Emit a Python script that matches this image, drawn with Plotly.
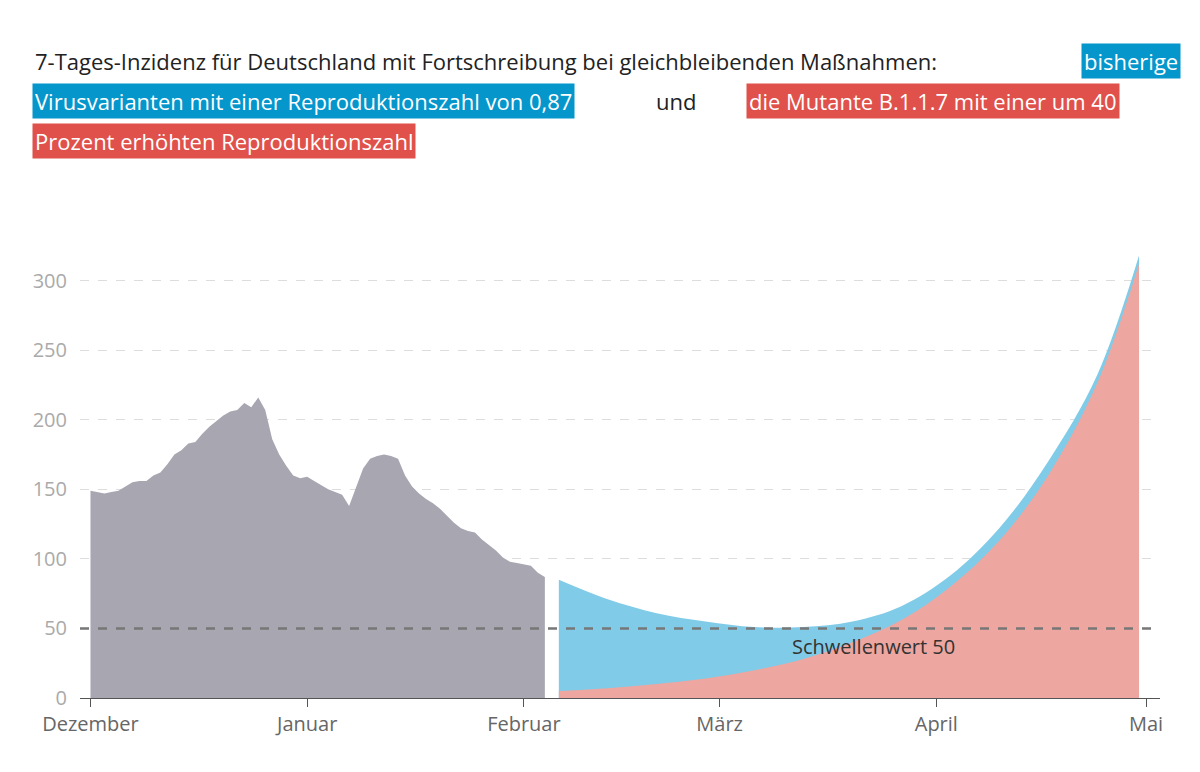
import pandas as pd
import plotly.graph_objects as go

# Tageswerte 1. Dez 2020 bis 5. Feb 2021
hist_start = "2020-12-01"
hist_values = [149, 148, 147, 148, 149, 152, 155, 156, 156, 160, 162, 168, 175, 178, 183, 184,
               190, 195, 199, 203, 206, 207, 212, 209, 216, 207, 186, 175, 167, 160, 158,
               159, 156, 153, 150, 148, 146, 138, 152, 165, 172, 174, 175, 174, 172, 160, 152,
               147, 143, 140, 136, 131, 126, 122, 120, 119, 114, 110, 106, 101, 98, 97,
               96, 95, 90, 87]
hist_dates = pd.date_range(hist_start, periods=len(hist_values), freq="D")

proj_dates = ["2021-02-06", "2021-02-13", "2021-02-20", "2021-02-27", "2021-03-06", "2021-03-13",
              "2021-03-20", "2021-03-27", "2021-04-03", "2021-04-10", "2021-04-17", "2021-04-24",
              "2021-04-30"]
total_values = [85, 71, 61, 55, 51, 51, 55, 66, 88, 122, 170, 232, 318]
mutant_values = [5, 7, 10, 14, 20, 28, 40, 56, 80, 113, 160, 226, 312]

tick_dates = ["2020-12-01", "2021-01-01", "2021-02-01", "2021-03-01", "2021-04-01", "2021-05-01"]
tick_labels = ["Dezember", "Januar", "Februar", "März", "April", "Mai"]

L, R, T, B = 72, 48, 242, 82
W, H = 1200, 772
OFF_X, OFF_Y = 8, 8  # Versatz der Darstellung im Browser


def px(x):
    return (x + OFF_X - L) / (W - L - R)


def py(y):
    return (H - B - (y + OFF_Y)) / (H - T - B)


fig = go.Figure()
fig.add_trace(go.Scatter(x=hist_dates, y=hist_values, mode="lines", fill="tozeroy",
                         line=dict(width=0, color="#a7a6b1"), fillcolor="#a7a6b1"))
fig.add_trace(go.Scatter(x=proj_dates, y=total_values, mode="lines", fill="tozeroy",
                         line=dict(width=0, shape="spline", color="#80cbe8"), fillcolor="#80cbe8"))
fig.add_trace(go.Scatter(x=proj_dates, y=mutant_values, mode="lines", fill="tozeroy",
                         line=dict(width=0, shape="spline", color="#eea6a0"), fillcolor="#eea6a0"))

fig.add_shape(type="line", xref="paper", x0=0, x1=1, y0=50, y1=50,
              line=dict(color="#777777", width=2.5, dash="dash"))
fig.add_annotation(x="2021-03-23", y=37, text="Schwellenwert 50", showarrow=False,
                   font=dict(family="Open Sans, sans-serif", size=20, color="#333"))

tf = dict(family="Open Sans, sans-serif", size=22, color="#222", weight=500)
wf = dict(family="Open Sans, sans-serif", size=22, color="white", weight=500)
anns = [
    (16, 45, "left", "7-Tages-Inzidenz für Deutschland mit Fortschreibung bei gleichbleibenden Maßnahmen:", tf, None),
    (1165, 45, "right", "bisherige", wf, "#0596cc"),
    (16, 85, "left", "Virusvarianten mit einer Reproduktionszahl von 0,87", wf, "#0596cc"),
    (660, 85, "center", "und", tf, None),
    (1104, 85, "right", "die Mutante B.1.1.7 mit einer um 40", wf, "#e0514b"),
    (16, 125, "left", "Prozent erhöhten Reproduktionszahl", wf, "#e0514b"),
]
for x, y, xa, text, f, bg in anns:
    fig.add_annotation(xref="paper", yref="paper", x=px(x), y=py(y), xanchor=xa, yanchor="middle",
                       text=text, showarrow=False, font=f, bgcolor=bg, borderpad=2)

fig.update_layout(
    width=W, height=H, margin=dict(l=L, r=R, t=T, b=B), showlegend=False,
    plot_bgcolor="white", paper_bgcolor="white",
    font=dict(family="Open Sans, sans-serif"),
    xaxis=dict(range=["2020-11-29 12:00", "2021-05-03"], tickvals=tick_dates, ticktext=tick_labels,
               showgrid=False, showline=True, linecolor="#555", ticks="outside", tickcolor="#555",
               ticklen=8, tickfont=dict(size=20, color="#666")),
    yaxis=dict(range=[0, 322], tickvals=[0, 50, 100, 150, 200, 250, 300], showgrid=True,
               gridcolor="#dddddd", griddash="dash", zeroline=False,
               tickfont=dict(size=20, color="#aaa"), ticklabelstandoff=12),
)
fig.write_html("out.html")
